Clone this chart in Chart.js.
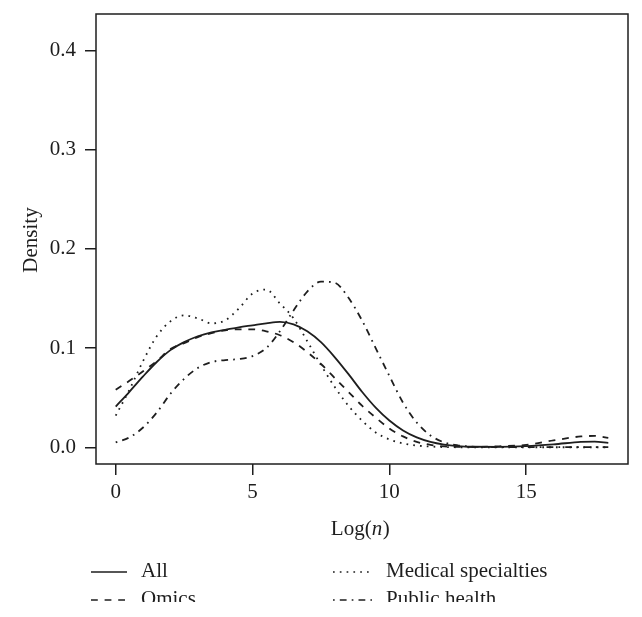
<!DOCTYPE html>
<html>
<head>
<meta charset="utf-8">
<script src="https://cdn.jsdelivr.net/npm/chart.js@4.4.1/dist/chart.umd.min.js"></script>
<style>
html, body { margin: 0; padding: 0; background: #fff; }
canvas { display: block; }
</style>
</head>
<body>
<canvas id="densityChart" width="642" height="617"></canvas>
<script>
var logN = [0, 0.5, 1, 1.5, 2, 2.5, 3, 3.5, 4, 4.5, 5, 5.5, 6, 6.5, 7, 7.5, 8, 8.5, 9, 9.5,
            10, 10.5, 11, 11.5, 12, 12.5, 13, 14, 15, 16, 17, 17.5, 18];

var allDens = [0.041, 0.056, 0.0715, 0.086, 0.098, 0.106, 0.112, 0.116, 0.1185, 0.121, 0.123, 0.125, 0.1265, 0.124, 0.117, 0.106, 0.091, 0.074, 0.056, 0.040,
               0.027, 0.017, 0.010, 0.0055, 0.0028, 0.0013, 0.0006, 0.0005, 0.0012, 0.003, 0.0055, 0.0058, 0.0045];
var omicsDens = [0.058, 0.067, 0.0766, 0.087, 0.099, 0.105, 0.111, 0.115, 0.118, 0.119, 0.119, 0.117, 0.113, 0.106, 0.096, 0.084, 0.070, 0.056, 0.042, 0.030,
                 0.019, 0.011, 0.0055, 0.0025, 0.001, 0.0005, 0.0004, 0.001, 0.0025, 0.007, 0.011, 0.0115, 0.0095];
var medDens = [0.032, 0.058, 0.087, 0.112, 0.127, 0.133, 0.130, 0.125, 0.128, 0.140, 0.155, 0.159, 0.145, 0.130, 0.107, 0.083, 0.061, 0.042, 0.027, 0.015,
               0.008, 0.004, 0.0018, 0.0008, 0.0003, 0.0001, 0.0001, 0.0001, 0.0001, 0.0001, 0.0001, 0.0001, 0.0001];
var pubDens = [0.005, 0.010, 0.020, 0.035, 0.054, 0.069, 0.080, 0.086, 0.088, 0.089, 0.092, 0.100, 0.117, 0.138, 0.157, 0.167, 0.166, 0.151, 0.128, 0.100,
               0.072, 0.045, 0.025, 0.012, 0.005, 0.002, 0.0008, 0.0003, 0.0002, 0.0002, 0.0002, 0.0002, 0.0002];

var seriesNames = ['All', 'Omics', 'Medical specialties', 'Public health'];
var xTicks = [0, 5, 10, 15];
var yTicks = [0, 0.1, 0.2, 0.3, 0.4];

var INK = '#1e1e1e';
var FONT = "'Liberation Serif', 'Times New Roman', serif";
var dashes = [[], [6.8, 6.8], [1.7, 5.1], [1.7, 5.1, 6.8, 5.1]];

function pairs(ys){
	return logN.map(function(x, i){ return {x: x, y: ys[i]}; });
}

var datasets = [allDens, omicsDens, medDens, pubDens].map(function(ys, i){
	return {
		label: seriesNames[i],
		data: pairs(ys),
		borderColor: INK,
		borderWidth: 1.8,
		borderDash: dashes[i],
		pointRadius: 0,
		fill: false,
		cubicInterpolationMode: 'monotone'
	};
});

// box, axis titles and the R style legend
var decor = {
	id: 'decor',
	afterDraw: function(chart){
		var ctx = chart.ctx;
		var a = chart.chartArea;
		ctx.save();
		ctx.strokeStyle = INK;
		ctx.lineWidth = 1.5;
		ctx.strokeRect(a.left, a.top, a.right - a.left, a.bottom - a.top);

		ctx.fillStyle = INK;
		ctx.font = '21px ' + FONT;
		ctx.textBaseline = 'alphabetic';

		// Density
		ctx.save();
		ctx.translate(37, 240);
		ctx.rotate(-Math.PI / 2);
		ctx.textAlign = 'center';
		ctx.fillText('Density', 0, 0);
		ctx.restore();

		// Log(n) with italic n
		var p1 = 'Log(', p2 = 'n', p3 = ')';
		ctx.textAlign = 'left';
		var w1 = ctx.measureText(p1).width, w3 = ctx.measureText(p3).width;
		ctx.font = 'italic 21px ' + FONT;
		var w2 = ctx.measureText(p2).width;
		var x0 = (a.left + a.right) / 2 - 2 - (w1 + w2 + w3) / 2;
		var by = 535;
		ctx.font = '21px ' + FONT;
		ctx.fillText(p1, x0, by);
		ctx.font = 'italic 21px ' + FONT;
		ctx.fillText(p2, x0 + w1, by);
		ctx.font = '21px ' + FONT;
		ctx.fillText(p3, x0 + w1 + w2 + 0.5, by);

		// legend, bottom row cut off like the source
		ctx.beginPath();
		ctx.rect(0, 0, chart.width, 602);
		ctx.clip();
		var cols = [{x1: 91, x2: 127, tx: 141}, {x1: 333, x2: 372, tx: 386}];
		var rows = [572, 600];
		var order = [[0, 0], [1, 0], [0, 1], [1, 1]]; // [row, col] per series
		ctx.lineWidth = 1.6;
		order.forEach(function(rc, i){
			var c = cols[rc[1]], y = rows[rc[0]];
			ctx.setLineDash(dashes[i]);
			ctx.beginPath();
			ctx.moveTo(c.x1, y);
			ctx.lineTo(c.x2, y);
			ctx.stroke();
			ctx.setLineDash([]);
			ctx.fillText(seriesNames[i], c.tx, y + 5);
		});
		ctx.restore();
	}
};

var chart = new Chart(document.getElementById('densityChart'), {
	type: 'line',
	data: {datasets: datasets},
	options: {
		responsive: false,
		animation: false,
		devicePixelRatio: 1,
		layout: {padding: {left: 0, top: 14, right: 14, bottom: 0}},
		plugins: {legend: {display: false}, tooltip: {enabled: false}},
		scales: {
			x: {
				type: 'linear',
				min: -0.72,
				max: 18.72,
				afterBuildTicks: function(s){ s.ticks = xTicks.map(function(v){ return {value: v}; }); },
				afterFit: function(s){ s.height = 153; s.paddingLeft = 0; s.paddingRight = 0; },
				grid: {drawOnChartArea: false, drawTicks: true, tickLength: 11, color: INK, lineWidth: 1.5},
				border: {display: false},
				ticks: {color: INK, font: {family: FONT, size: 21}, padding: 5, maxRotation: 0}
			},
			y: {
				min: -0.0168,
				max: 0.4368,
				afterBuildTicks: function(s){ s.ticks = yTicks.map(function(v){ return {value: v}; }); },
				afterFit: function(s){ s.width = 96; s.paddingTop = 0; s.paddingBottom = 0; },
				grid: {drawOnChartArea: false, drawTicks: true, tickLength: 11, color: INK, lineWidth: 1.5},
				border: {display: false},
				ticks: {color: INK, font: {family: FONT, size: 21}, padding: 9,
					callback: function(v){ return v.toFixed(1); }}
			}
		}
	},
	plugins: [decor]
});
</script>
</body>
</html>
